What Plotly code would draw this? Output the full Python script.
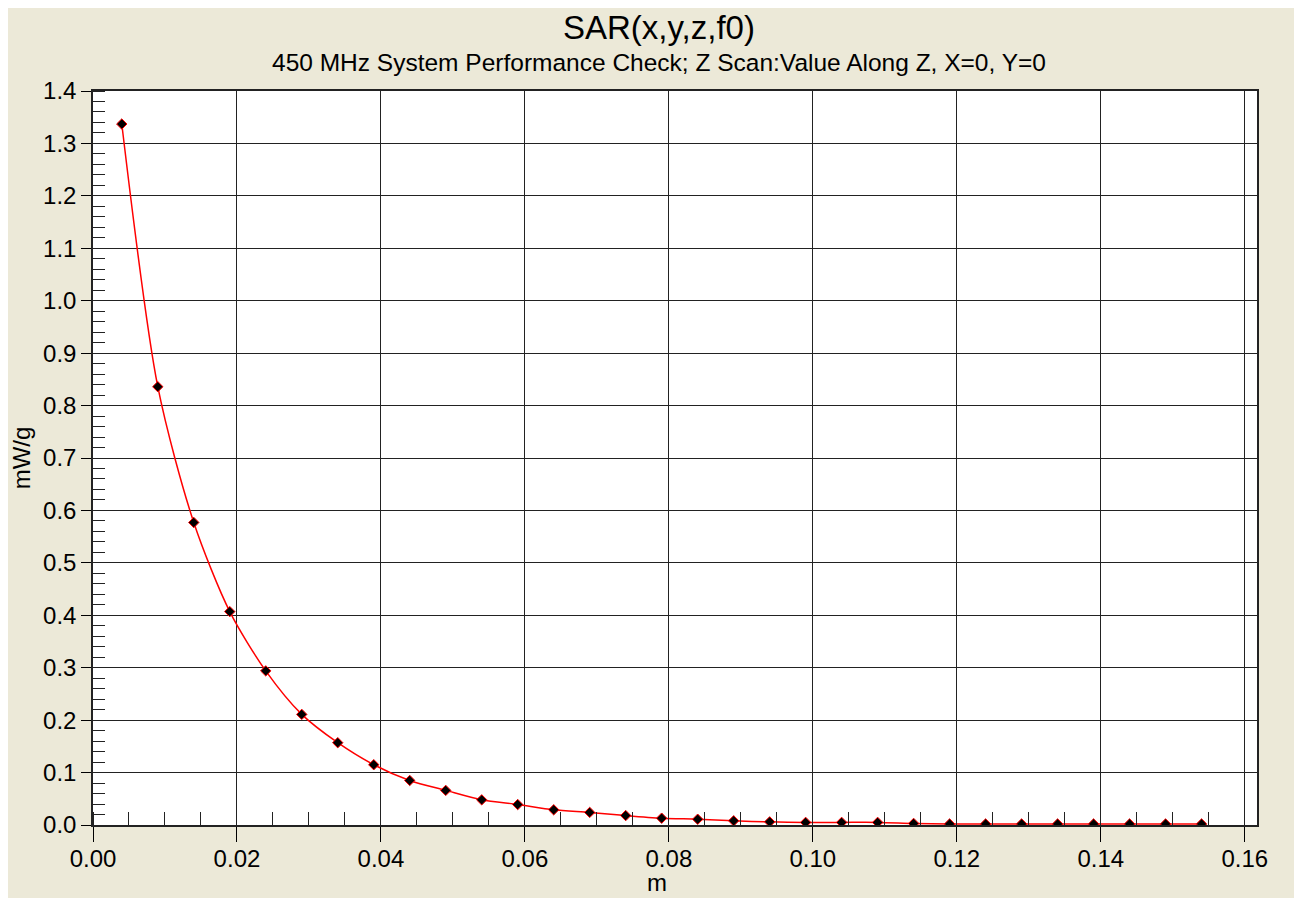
import plotly.graph_objects as go

# Data
z_m = [0.004, 0.009, 0.014, 0.019, 0.024, 0.029, 0.034, 0.039, 0.044, 0.049,
       0.054, 0.059, 0.064, 0.069, 0.074, 0.079, 0.084, 0.089, 0.094, 0.099,
       0.104, 0.109, 0.114, 0.119, 0.124, 0.129, 0.134, 0.139, 0.144, 0.149, 0.154]
sar_mwg = [1.337, 0.836, 0.577, 0.407, 0.294, 0.211, 0.157, 0.115, 0.085, 0.066,
           0.048, 0.039, 0.029, 0.024, 0.018, 0.013, 0.011, 0.008, 0.006, 0.005,
           0.005, 0.005, 0.003, 0.002, 0.002, 0.002, 0.002, 0.002, 0.002, 0.002, 0.002]

title_text = "SAR(x,y,z,f0)"
subtitle_text = "450 MHz System Performance Check; Z Scan:Value Along Z, X=0, Y=0"
x_title = "m"
y_title = "mW/g"

BEIGE = "#ECE9D8"
FONT = "Liberation Sans, Arial, sans-serif"

L, T = 80, 83
PW, PH = 1169, 734
W, H = 1302, 898
R = W - L - PW
B = H - T - PH

fig = go.Figure()
fig.add_trace(go.Scatter(
    x=z_m, y=sar_mwg, mode="lines+markers",
    line=dict(color="#FF0000", width=1.5, shape="spline", smoothing=0.8),
    marker=dict(symbol="diamond", size=8, color="black",
                line=dict(color="#FF0000", width=1)),
    showlegend=False, hoverinfo="x+y",
))

def px_x(p):
    return (p - L) / PW

def px_y(p):
    return (T + PH - p) / PH

annotations = [
    dict(text=title_text, xref="paper", yref="paper", x=px_x(648), y=px_y(19),
         xanchor="center", yanchor="middle", showarrow=False,
         font=dict(family=FONT, size=33, color="black")),
    dict(text=subtitle_text, xref="paper", yref="paper", x=px_x(648.5), y=px_y(54),
         xanchor="center", yanchor="middle", showarrow=False,
         font=dict(family=FONT, size=24.5, color="black")),
    dict(text=x_title, xref="paper", yref="paper", x=px_x(646), y=px_y(890),
         xanchor="center", yanchor="bottom", showarrow=False,
         font=dict(family=FONT, size=24, color="black")),
]

fig.update_layout(
    width=W, height=H,
    margin=dict(l=L, r=R, t=T, b=B, pad=0),
    paper_bgcolor=BEIGE, plot_bgcolor="white",
    font=dict(family=FONT, size=24, color="black"),
    annotations=annotations,
)

fig.update_xaxes(
    range=[0, 0.1617], dtick=0.02, tick0=0, tickformat=".2f",
    ticks="outside", ticklen=15, tickwidth=1.3, tickcolor="black",
    ticklabelstandoff=-4,
    showgrid=True, gridcolor="#222222", gridwidth=1.3,
    showline=True, linecolor="#222222", linewidth=1.5, mirror=True,
    zeroline=False,
    minor=dict(ticks="inside", ticklen=13, dtick=0.005, tickwidth=1.3,
               tickcolor="#222222", showgrid=False),
    tickfont=dict(family=FONT, size=24),
)
fig.update_yaxes(
    range=[0, 1.4], dtick=0.1, tick0=0, tickformat=".1f",
    ticks="outside", ticklen=10, tickwidth=1.3, tickcolor="black",
    showgrid=True, gridcolor="#222222", gridwidth=1.3,
    showline=True, linecolor="#222222", linewidth=1.5, mirror=True,
    zeroline=False,
    minor=dict(ticks="inside", ticklen=12, dtick=0.02, tickwidth=1.3,
               tickcolor="#222222", showgrid=False),
    title=dict(text=y_title, font=dict(family=FONT, size=24), standoff=6),
    tickfont=dict(family=FONT, size=24),
)

fig.write_html("out.html")
